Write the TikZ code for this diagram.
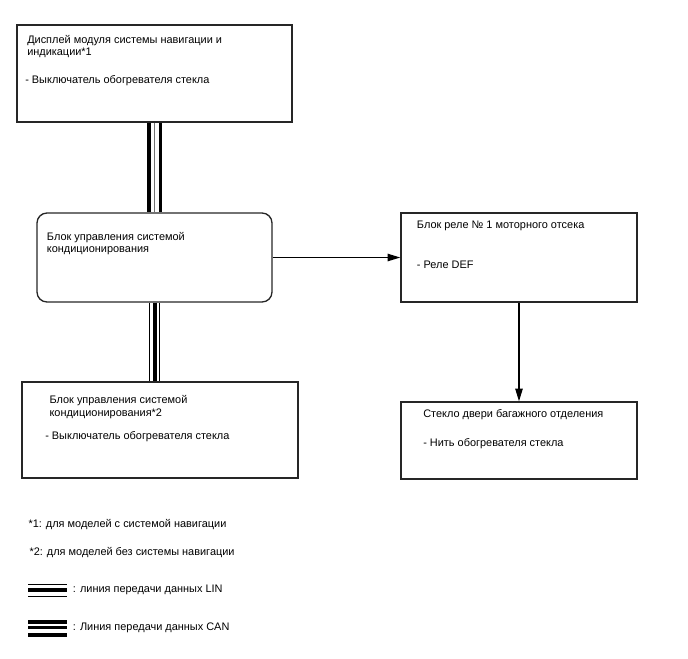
\documentclass[tikz,border=0pt]{standalone}
\usepackage{fontspec}
\setmainfont{Liberation Sans}
\usetikzlibrary{arrows.meta}

\begin{document}
\begin{tikzpicture}[x=0.75pt,y=0.75pt,yscale=-1,xscale=1,
  box/.style={draw=black!85, line width=1pt, inner sep=0pt},
  txt/.style={anchor=base west, inner sep=0pt, font=\fontsize{8.2}{9.4}\selectfont},
  canouter/.style={draw=black, line width=2.6pt},
  canmid/.style={draw=black!55, line width=1.1pt},
  linouter/.style={draw=black, line width=0.75pt},
  linmid/.style={draw=black, line width=3pt},
  signal/.style={draw=black, line width=1pt, -{Triangle[length=9.5pt,width=5.5pt]}}
]
\useasboundingbox (0,0) rectangle (688,658);

%Boxes
\node (disp) [box, minimum width=206.25pt, minimum height=72.75pt] at (154.5,73.5) {};
\node (ac) [box, rounded corners=7.5pt, minimum width=176.25pt, minimum height=66.75pt] at (154.5,257.5) {};
\node (relay) [box, minimum width=177pt, minimum height=66.75pt] at (519,257.5) {};
\node (glass) [box, minimum width=177pt, minimum height=57.75pt] at (519,440.5) {};
\node (acb) [box, minimum width=207pt, minimum height=72pt] at (160,430) {};

%CAN line
\draw [canouter] ([xshift=-4.3pt]disp.south) -- ([xshift=-4.3pt]ac.north) ;
\draw [canmid] (disp.south) -- (ac.north) ;
\draw [canouter] ([xshift=4.3pt]disp.south) -- ([xshift=4.3pt]ac.north) ;
%LIN line
\draw [linouter] ([xshift=-4.1pt]ac.south) -- ([xshift=-4.1pt]ac.south |- acb.north) ;
\draw [linmid] (ac.south) -- (ac.south |- acb.north) ;
\draw [linouter] ([xshift=4.1pt]ac.south) -- ([xshift=4.1pt]ac.south |- acb.north) ;
%Arrows
\draw [signal] (ac.east) -- (relay.west) ;
\draw [signal] (relay.south) -- (glass.north) ;

% Text Node
\node (disp1) [txt] at (27,43.3) {Дисплей модуля системы навигации и};
\node (disp2) [txt] at (27,55.7) {индикации*1};
\node (disp3) [txt] at (25,83) {- Выключатель обогревателя стекла};
% Text Node
\node (ac1) [txt] at (46.7,240.7) {Блок управления системой};
\node (ac2) [txt] at (46.7,252.3) {кондиционирования};
% Text Node
\node (relay1) [txt] at (416.7,228.3) {Блок реле № 1 моторного отсека};
\node (relay2) [txt] at (416.7,268.3) {- Реле DEF};
% Text Node
\node (glass1) [txt] at (423,417.7) {Стекло двери багажного отделения};
\node (glass2) [txt] at (423,446.7) {- Нить обогревателя стекла};
% Text Node
\node (acb1) [txt] at (49.3,403.3) {Блок управления системой};
\node (acb2) [txt] at (49.3,416.7) {кондиционирования*2};
\node (acb3) [txt] at (45,439.3) {- Выключатель обогревателя стекла};

%Legend
\node (note1) [txt] at (28.3,527.3) {*1: для моделей с системой навигации};
\node (note2) [txt] at (29.3,555.7) {*2: для моделей без системы навигации};
\draw [linouter] (28,584.5) -- (67,584.5) ;
\draw [linmid] (28,590.3) -- (67,590.3) ;
\draw [linouter] (28,596.5) -- (67,596.5) ;
\node (linkey) [txt] at (72.7,592.3) {: линия передачи данных LIN};
\draw [canouter] (28,622) -- (67,622) ;
\draw [canouter] (28,627.7) -- (67,627.7) ;
\draw [canouter] (28,635) -- (67,635) ;
\node (cankey) [txt] at (72.7,630.7) {: Линия передачи данных CAN};

\end{tikzpicture}
\end{document}
